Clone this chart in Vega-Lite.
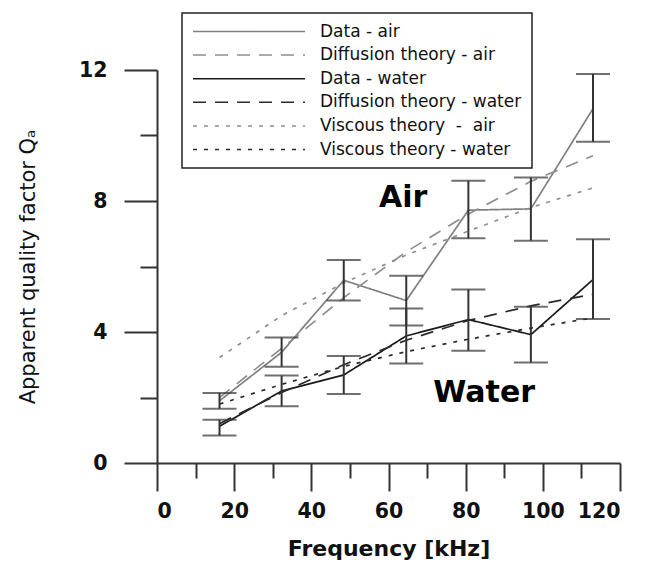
{
  "$schema": "https://vega.github.io/schema/vega-lite/v6.json",
  "width": 463,
  "height": 393,
  "autosize": "none",
  "padding": {"left": 157, "top": 70, "right": 27, "bottom": 104},
  "background": "white",
  "config": {
    "view": {"stroke": null},
    "axis": {
      "grid": false,
      "domainColor": "#333",
      "domainWidth": 2,
      "tickColor": "#333",
      "tickWidth": 2,
      "labelColor": "#111",
      "titleColor": "#111"
    },
    "legend": {"strokeWidth": 1.5}
  },
  "datasets": {
    "lines": [
      {"f": 16.2, "q": 1.9, "series": "Data - air"},
      {"f": 32.3, "q": 3.38, "series": "Data - air"},
      {"f": 48.4, "q": 5.58, "series": "Data - air"},
      {"f": 64.6, "q": 4.96, "series": "Data - air"},
      {"f": 80.7, "q": 7.72, "series": "Data - air"},
      {"f": 96.9, "q": 7.76, "series": "Data - air"},
      {"f": 113.0, "q": 10.82, "series": "Data - air"},
      {"f": 16.2, "q": 2.0, "series": "Diffusion theory - air"},
      {"f": 32.3, "q": 3.5, "series": "Diffusion theory - air"},
      {"f": 48.4, "q": 5.05, "series": "Diffusion theory - air"},
      {"f": 64.6, "q": 6.45, "series": "Diffusion theory - air"},
      {"f": 80.7, "q": 7.6, "series": "Diffusion theory - air"},
      {"f": 96.9, "q": 8.6, "series": "Diffusion theory - air"},
      {"f": 113.0, "q": 9.38, "series": "Diffusion theory - air"},
      {"f": 16.2, "q": 1.12, "series": "Data - water"},
      {"f": 32.3, "q": 2.2, "series": "Data - water"},
      {"f": 48.4, "q": 2.69, "series": "Data - water"},
      {"f": 64.6, "q": 3.88, "series": "Data - water"},
      {"f": 80.7, "q": 4.38, "series": "Data - water"},
      {"f": 96.9, "q": 3.92, "series": "Data - water"},
      {"f": 113.0, "q": 5.6, "series": "Data - water"},
      {"f": 16.2, "q": 1.2, "series": "Diffusion theory - water"},
      {"f": 32.3, "q": 2.15, "series": "Diffusion theory - water"},
      {"f": 48.4, "q": 3.0, "series": "Diffusion theory - water"},
      {"f": 64.6, "q": 3.75, "series": "Diffusion theory - water"},
      {"f": 80.7, "q": 4.35, "series": "Diffusion theory - water"},
      {"f": 96.9, "q": 4.8, "series": "Diffusion theory - water"},
      {"f": 113.0, "q": 5.15, "series": "Diffusion theory - water"},
      {"f": 16.2, "q": 3.22, "series": "Viscous theory\u00a0 -\u00a0 air"},
      {"f": 32.3, "q": 4.5, "series": "Viscous theory\u00a0 -\u00a0 air"},
      {"f": 48.4, "q": 5.5, "series": "Viscous theory\u00a0 -\u00a0 air"},
      {"f": 64.6, "q": 6.35, "series": "Viscous theory\u00a0 -\u00a0 air"},
      {"f": 80.7, "q": 7.08, "series": "Viscous theory\u00a0 -\u00a0 air"},
      {"f": 96.9, "q": 7.8, "series": "Viscous theory\u00a0 -\u00a0 air"},
      {"f": 113.0, "q": 8.4, "series": "Viscous theory\u00a0 -\u00a0 air"},
      {"f": 16.2, "q": 1.8, "series": "Viscous theory - water"},
      {"f": 32.3, "q": 2.4, "series": "Viscous theory - water"},
      {"f": 48.4, "q": 2.95, "series": "Viscous theory - water"},
      {"f": 64.6, "q": 3.4, "series": "Viscous theory - water"},
      {"f": 80.7, "q": 3.78, "series": "Viscous theory - water"},
      {"f": 96.9, "q": 4.12, "series": "Viscous theory - water"},
      {"f": 113.0, "q": 4.43, "series": "Viscous theory - water"}
    ],
    "errors": [
      {"f": 16.2, "lo": 1.66, "hi": 2.14, "medium": "air"},
      {"f": 32.3, "lo": 2.94, "hi": 3.83, "medium": "air"},
      {"f": 48.4, "lo": 4.96, "hi": 6.2, "medium": "air"},
      {"f": 64.6, "lo": 4.2, "hi": 5.72, "medium": "air"},
      {"f": 80.7, "lo": 6.86, "hi": 8.62, "medium": "air"},
      {"f": 96.9, "lo": 6.79, "hi": 8.72, "medium": "air"},
      {"f": 113.0, "lo": 9.81, "hi": 11.88, "medium": "air"},
      {"f": 16.2, "lo": 0.84, "hi": 1.32, "medium": "water"},
      {"f": 32.3, "lo": 1.73, "hi": 2.67, "medium": "water"},
      {"f": 48.4, "lo": 2.11, "hi": 3.27, "medium": "water"},
      {"f": 64.6, "lo": 3.04, "hi": 4.72, "medium": "water"},
      {"f": 80.7, "lo": 3.43, "hi": 5.3, "medium": "water"},
      {"f": 96.9, "lo": 3.07, "hi": 4.77, "medium": "water"},
      {"f": 113.0, "lo": 4.4, "hi": 6.83, "medium": "water"}
    ],
    "labels": [
      {"f": 63.8, "q": 7.82, "label": "Air"},
      {"f": 84.8, "q": 1.87, "label": "Water"}
    ]
  },
  "resolve": {"axis": {"x": "independent", "y": "independent"}},
  "layer": [
    {
      "data": {"name": "lines"},
      "mark": {"type": "line", "strokeWidth": 1.7},
      "encoding": {
        "x": {
          "field": "f", "type": "quantitative",
          "scale": {"domain": [0, 120], "nice": false},
          "axis": {
            "orient": "bottom",
            "values": [0, 20, 40, 60, 80, 100, 120],
            "tickSize": 28,
            "labelPadding": 10,
            "labelFont": "DejaVu Sans",
            "labelFontWeight": "bold",
            "labelFontSize": 20.5,
            "title": "Frequency [kHz]",
            "titleFont": "DejaVu Sans",
            "titleFontWeight": "bold",
            "titleFontSize": 22,
            "titleY": 92,
            "titleBaseline": "alphabetic"
          }
        },
        "y": {
          "field": "q", "type": "quantitative",
          "scale": {"domain": [0, 12], "nice": false},
          "axis": {
            "orient": "left",
            "values": [0, 4, 8, 12],
            "tickSize": 33,
            "labelPadding": 17,
            "labelFont": "DejaVu Sans",
            "labelFontWeight": "bold",
            "labelFontSize": 20.5,
            "title": "Apparent quality factor Qₐ",
            "titleFont": "DejaVu Sans",
            "titleFontWeight": "normal",
            "titleFontSize": 21,
            "titleAngle": -90,
            "titleX": -129,
            "titleY": 196.5,
            "titleAlign": "center",
            "titleBaseline": "middle"
          }
        },
        "color": {
          "field": "series", "type": "nominal",
          "scale": {
            "domain": ["Data - air", "Diffusion theory - air", "Data - water", "Diffusion theory - water", "Viscous theory\u00a0 -\u00a0 air", "Viscous theory - water"],
            "range": ["#808080", "#8f8f8f", "#1a1a1a", "#2a2a2a", "#8f8f8f", "#2a2a2a"]
          },
          "legend": {
            "title": null,
            "orient": "none",
            "legendX": 25,
            "legendY": -57,
            "padding": 10,
            "strokeColor": "#222",
            "fillColor": "white",
            "symbolType": "stroke",
            "symbolSize": 12544,
            "symbolStrokeWidth": 1.5,
            "clipHeight": 17,
            "labelFont": "DejaVu Sans",
            "labelFontSize": 17,
            "labelColor": "#111",
            "labelOffset": 14,
            "rowPadding": 5.6,
            "labelLimit": 400
          }
        },
        "strokeDash": {
          "field": "series", "type": "nominal",
          "scale": {
            "domain": ["Data - air", "Diffusion theory - air", "Data - water", "Diffusion theory - water", "Viscous theory\u00a0 -\u00a0 air", "Viscous theory - water"],
            "range": [[1, 0], [13, 9], [1, 0], [13, 9], [4, 7], [4, 7]]
          },
          "legend": {
            "title": null,
            "orient": "none",
            "legendX": 25,
            "legendY": -57
          }
        }
      }
    },
    {
      "data": {"name": "errors"},
      "mark": {"type": "rule", "color": "#333", "strokeWidth": 2},
      "encoding": {
        "x": {
          "field": "f", "type": "quantitative",
          "axis": {
            "orient": "bottom",
            "values": [10, 30, 50, 70, 90, 110],
            "tickSize": 15,
            "labels": false,
            "domain": false,
            "title": null
          }
        },
        "y": {
          "field": "lo", "type": "quantitative",
          "axis": {
            "orient": "left",
            "values": [2, 6, 10],
            "tickSize": 17,
            "labels": false,
            "domain": false,
            "title": null
          }
        },
        "y2": {"field": "hi"}
      }
    },
    {
      "data": {"name": "errors"},
      "transform": [{"fold": ["lo", "hi"], "as": ["end", "value"]}],
      "mark": {"type": "tick", "orient": "horizontal", "color": "#333", "size": 34, "thickness": 2},
      "encoding": {
        "x": {"field": "f", "type": "quantitative", "axis": null},
        "y": {"field": "value", "type": "quantitative", "axis": null}
      }
    },
    {
      "data": {"name": "labels"},
      "mark": {"type": "text", "font": "DejaVu Sans", "fontWeight": "bold", "fontSize": 30, "align": "center", "baseline": "alphabetic", "color": "#000"},
      "encoding": {
        "x": {"field": "f", "type": "quantitative", "axis": null},
        "y": {"field": "q", "type": "quantitative", "axis": null},
        "text": {"field": "label"}
      }
    }
  ]
}
